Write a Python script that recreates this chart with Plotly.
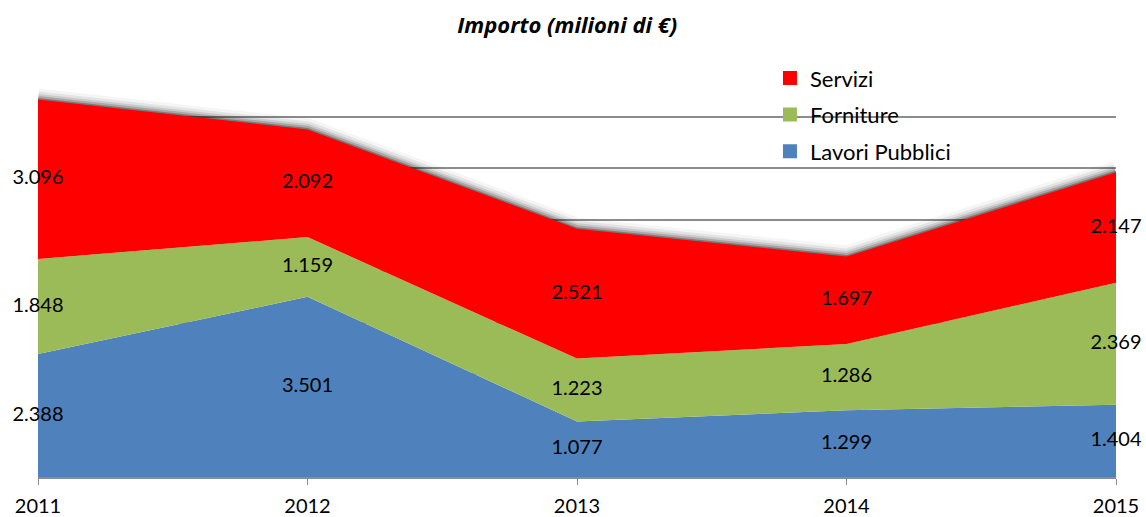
import plotly.graph_objects as go

years = [2011, 2012, 2013, 2014, 2015]
lavori = [2.388, 3.501, 1.077, 1.299, 1.404]
forniture = [1.848, 1.159, 1.223, 1.286, 2.369]
servizi = [3.096, 2.092, 2.521, 1.697, 2.147]
series_names = ["Lavori Pubblici", "Forniture", "Servizi"]
series_colors = ["#4F81BD", "#9BBB59", "#FF0000"]
title_text = "Importo (milioni di €)"

FONT = "Lato"

c1 = lavori
c2 = [a + b for a, b in zip(lavori, forniture)]
c3 = [a + b for a, b in zip(c2, servizi)]

fig = go.Figure()

# drop shadow along top edge
for w, op in [(22, 0.04), (16, 0.07), (11, 0.11), (7, 0.17), (3, 0.28)]:
    fig.add_trace(go.Scatter(x=years, y=c3, mode="lines",
                             line=dict(color=f"rgba(0,0,0,{op})", width=w),
                             showlegend=False, hoverinfo="skip"))

fig.add_trace(go.Scatter(x=years, y=c1, mode="lines", fill="tozeroy",
                         fillcolor=series_colors[0], line=dict(width=0, color=series_colors[0]),
                         showlegend=False, name=series_names[0]))
fig.add_trace(go.Scatter(x=years, y=c2, mode="lines", fill="tonexty",
                         fillcolor=series_colors[1], line=dict(width=0, color=series_colors[1]),
                         showlegend=False, name=series_names[1]))
fig.add_trace(go.Scatter(x=years, y=c3, mode="lines", fill="tonexty",
                         fillcolor=series_colors[2], line=dict(width=0, color=series_colors[2]),
                         showlegend=False, name=series_names[2]))

# value labels centred in each band
bottoms = [[0] * len(years), c1, c2]
vals = [lavori, forniture, servizi]
for b, v in zip(bottoms, vals):
    fig.add_trace(go.Scatter(
        x=years, y=[bb + vv / 2 for bb, vv in zip(b, v)], mode="text",
        text=[f"{vv:.3f}" for vv in v], textposition="middle center",
        textfont=dict(family=FONT, size=20, color="black"),
        cliponaxis=False, showlegend=False, hoverinfo="skip"))

# legend entries (Servizi on top)
for i, (n, c) in enumerate(zip(series_names, series_colors)):
    fig.add_trace(go.Scatter(x=[None], y=[None], mode="markers", name=n,
                             marker=dict(symbol="square", size=14, color=c),
                             legendgroup=n, legendrank=10 - i, showlegend=True))

fig.update_layout(
    width=1146, height=517,
    margin=dict(l=38, r=30, t=65, b=40, autoexpand=False),
    paper_bgcolor="white", plot_bgcolor="white",
    title=dict(text=f"<b><i>{title_text}</i></b>", x=0.495, xanchor="center",
               y=0.952, yanchor="middle", font=dict(family="Open Sans", size=22, color="black")),
    legend=dict(x=0.679, xanchor="left", y=1.019, yanchor="top", traceorder="grouped",
                tracegroupgap=5, bgcolor="rgba(0,0,0,0)",
                font=dict(family=FONT, size=22, color="black")),
    showlegend=True,
)
fig.update_xaxes(range=[2011, 2015], tickvals=years, ticktext=[str(y) for y in years],
                 showgrid=False, showline=True, linecolor="#8c8c8c", linewidth=1.5,
                 ticks="outside", ticklen=6, tickcolor="#8c8c8c", ticklabelstandoff=4,
                 tickfont=dict(family=FONT, size=20, color="black"), zeroline=False,
                 automargin=False)
fig.update_yaxes(range=[0, 8.003], tickvals=[1, 2, 3, 4, 5, 6, 7, 8], showticklabels=False,
                 showgrid=True, gridcolor="#8c8c8c", gridwidth=1.5, zeroline=False,
                 showline=False, automargin=False)

fig.write_html("out.html", config={"displayModeBar": False},
               post_script="document.body.style.margin='0';document.body.style.overflow='hidden';")
